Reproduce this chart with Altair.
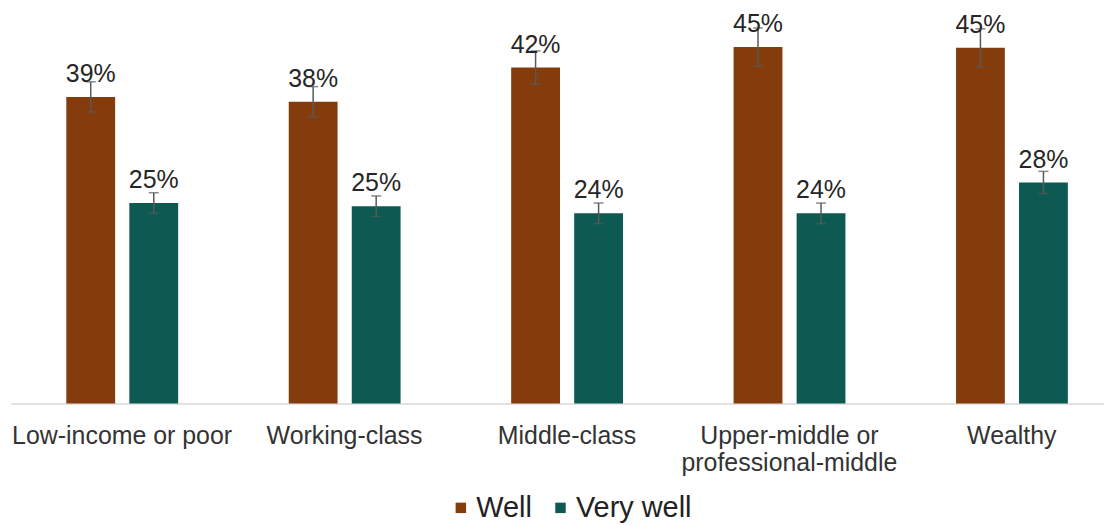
import altair as alt
import pandas as pd

categories = ["Low-income or poor", "Working-class", "Middle-class",
              "Upper-middle or professional-middle", "Wealthy"]
series = ["Well", "Very well"]
well_values = [38.7, 38.1, 42.4, 45.0, 44.9]
well_errors = [1.9, 1.9, 2.1, 2.4, 2.4]
very_well_values = [25.3, 24.9, 24.0, 24.0, 27.9]
very_well_errors = [1.3, 1.3, 1.3, 1.3, 1.4]
colors = ["#843C0C", "#0C5A52"]

rows = []
for c, v, e in zip(categories, well_values, well_errors):
    rows.append({"category": c, "series": "Well", "value": v, "lo": v - e, "hi": v + e})
for c, v, e in zip(categories, very_well_values, very_well_errors):
    rows.append({"category": c, "series": "Very well", "value": v, "lo": v - e, "hi": v + e})
df = pd.DataFrame(rows)

FONT = "Liberation Sans"

x_enc = alt.X(
    "category:N",
    sort=categories,
    scale=alt.Scale(range=[2.9, 1119.1], paddingInner=0, paddingOuter=0),
    axis=alt.Axis(
        title=None, ticks=False, labelAngle=0, labelFont=FONT, labelFontSize=25,
        labelColor="#333333", labelPadding=20, labelBaseline="top",
        labelLineHeight=27, labelLimit=0, domainColor="#D9D9D9", domainWidth=1.5,
        labelExpr="datum.label == 'Upper-middle or professional-middle' ? "
                  "['Upper-middle or', 'professional-middle'] : datum.label",
    ),
)
xo_enc = alt.XOffset(
    "series:N", sort=series,
    scale=alt.Scale(range=[48.5, 175], paddingInner=0, paddingOuter=0),
)
y_scale = alt.Scale(domain=[0, 49.8], nice=False, zero=True)

base = alt.Chart(df)

bars = base.mark_bar(width=49).encode(
    x=x_enc,
    xOffset=xo_enc,
    y=alt.Y("value:Q", scale=y_scale, axis=None),
    color=alt.Color(
        "series:N", sort=series,
        scale=alt.Scale(domain=series, range=colors),
        legend=alt.Legend(
            orient="none", legendX=440, legendY=486, direction="horizontal",
            title=None, symbolType="square", symbolSize=110,
            symbolStrokeWidth=0, labelFont=FONT, labelFontSize=29,
            labelColor="#222222", columnPadding=14, labelOffset=1, padding=0,
        ),
    ),
)

rules = base.mark_rule(color="#595959", strokeWidth=1.5).encode(
    x=x_enc, xOffset=xo_enc,
    y=alt.Y("lo:Q", scale=y_scale, axis=None), y2="hi:Q",
)
caps_lo = base.mark_tick(color="#595959", thickness=1.5, size=10).encode(
    x=x_enc, xOffset=xo_enc, y=alt.Y("lo:Q", scale=y_scale, axis=None),
)
caps_hi = base.mark_tick(color="#595959", thickness=1.5, size=10).encode(
    x=x_enc, xOffset=xo_enc, y=alt.Y("hi:Q", scale=y_scale, axis=None),
)

labels = base.transform_calculate(
    label="format(datum.value, '.0f') + '%'"
).mark_text(
    font=FONT, fontSize=25, color="#262626", baseline="alphabetic", dy=-15,
).encode(
    x=x_enc, xOffset=xo_enc,
    y=alt.Y("value:Q", scale=y_scale, axis=None),
    text="label:N",
)

chart = alt.layer(bars, rules, caps_lo, caps_hi, labels).properties(
    width=1100, height=396,
    autosize=alt.AutoSizeParams(type="none"),
    padding={"left": 0, "top": 0, "right": 0, "bottom": 121},
).configure(background="white").configure_view(stroke=None, strokeWidth=0)

chart.save("out.html", embed_options={"renderer": "svg", "actions": False})
